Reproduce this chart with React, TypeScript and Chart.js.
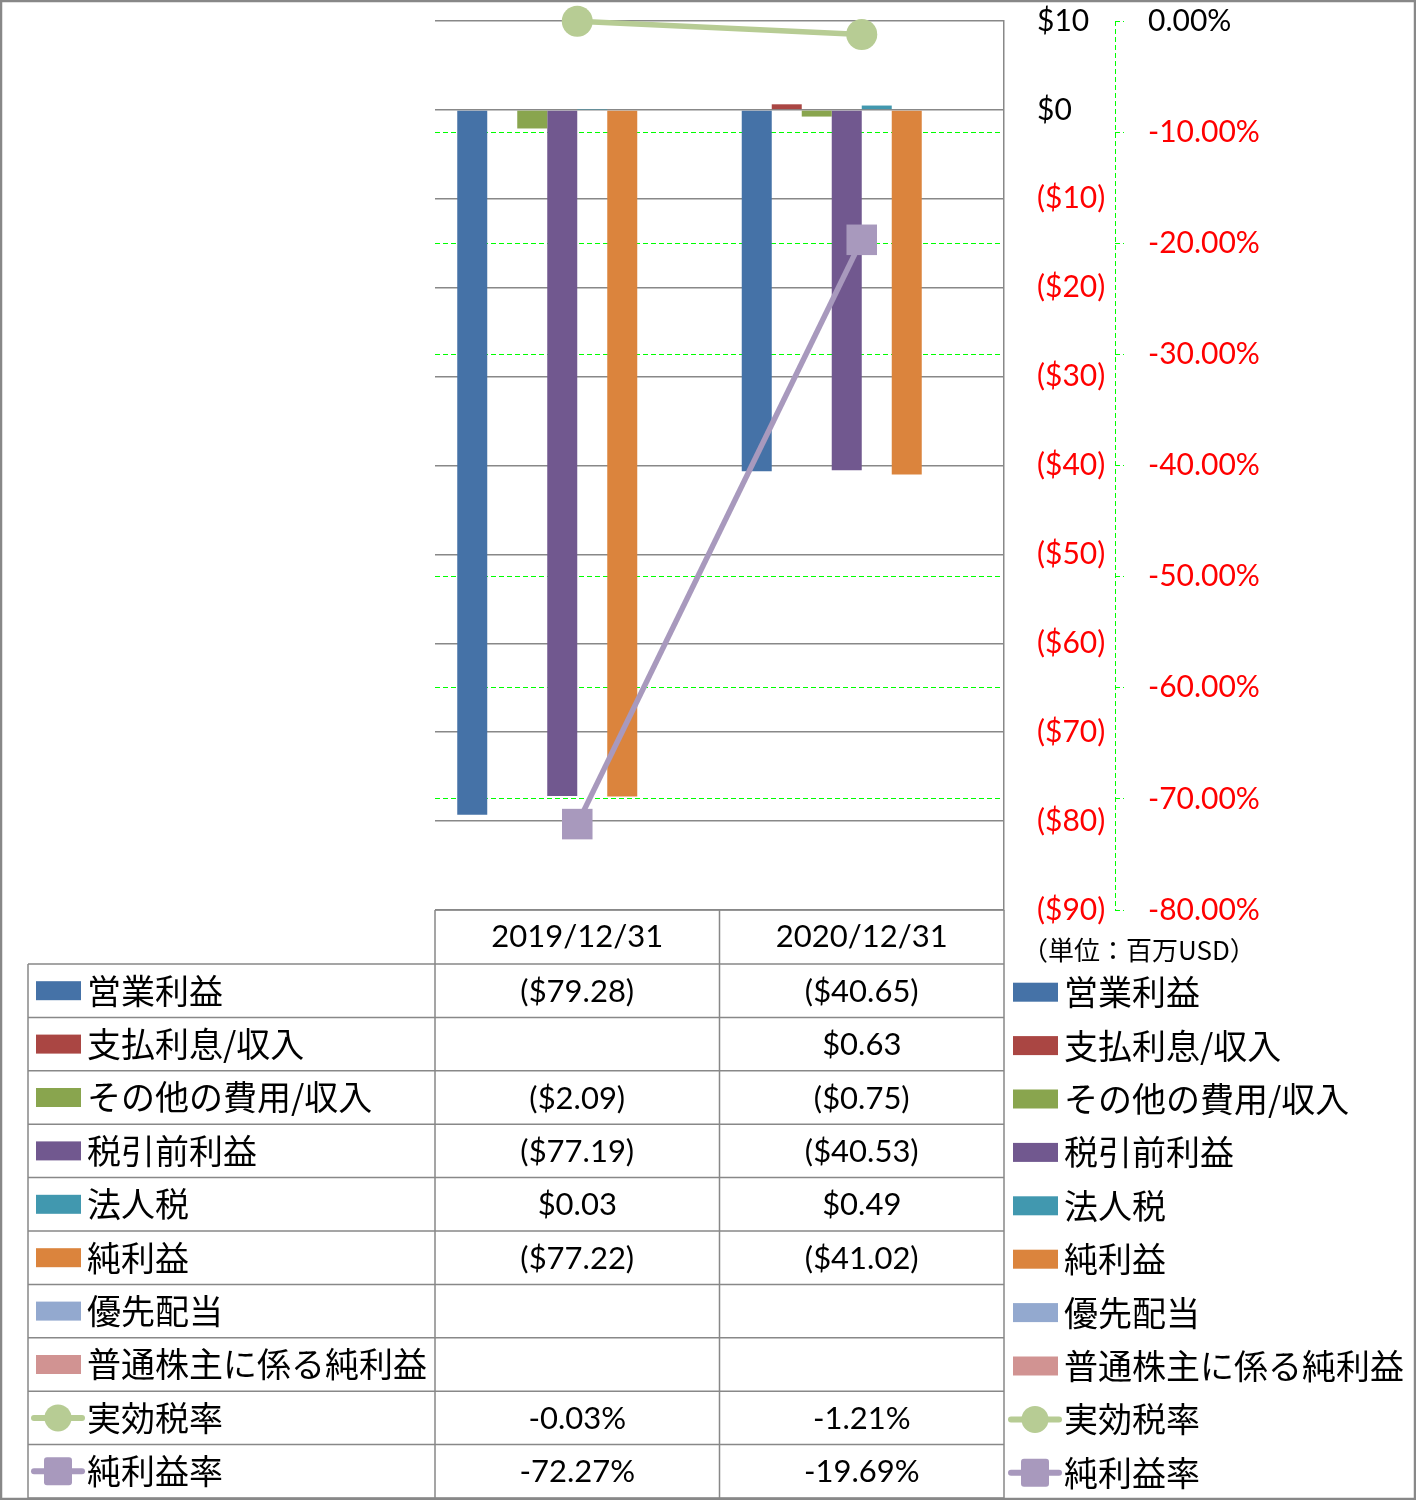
import React, { useEffect, useRef } from 'react';
import { Chart, registerables } from 'chart.js';

Chart.register(...registerables);

// ---- data ----
const categories = ['2019/12/31', '2020/12/31'];
const seriesNames = [
  '営業利益',
  '支払利息/収入',
  'その他の費用/収入',
  '税引前利益',
  '法人税',
  '純利益',
  '優先配当',
  '普通株主に係る純利益',
  '実効税率',
  '純利益率',
];
const operatingIncome = [-79.28, -40.65];
const interestExpense = [null, 0.63];
const otherExpense = [-2.09, -0.75];
const pretaxIncome = [-77.19, -40.53];
const incomeTax = [0.03, 0.49];
const netIncome = [-77.22, -41.02];
const preferredDividends = [null, null];
const netIncomeCommon = [null, null];
const effectiveTaxRate = [-0.0003, -0.0121];
const netMargin = [-0.7227, -0.1969];
const leftAxis = { min: -90, max: 10, step: 10 };
const rightAxis = { min: -0.8, max: 0, step: 0.1 };
const unitLabel = '（単位：百万USD）';

const barColors = ['#4572A7', '#AA4643', '#89A54E', '#71588F', '#4198AF', '#DB843D', '#93A9CF', '#D19392'];
const lineColors = ['#B7CC94', '#A899BD'];

const NUM_FONT = "31px Lato, 'Noto Sans CJK JP', sans-serif";
const JP_FONT = "34px 'Noto Sans CJK JP', sans-serif";
const GRAY = '#888888';
const LIME = '#00FF00';

const money = (v: number | null) => {
  if (v === null || v === undefined) return '';
  return v < 0 ? `($${(-v).toFixed(2)})` : `$${v.toFixed(2)}`;
};
const pct = (v: number | null) => (v === null || v === undefined ? '' : `${(v * 100).toFixed(2)}%`);

const tablePlugin = {
  id: 'dataTable',
  afterDraw(chart: any) {
    const { ctx, chartArea } = chart;
    const xs = chart.scales.x;
    const y1 = chart.scales.y1;
    const ds = chart.data.datasets;
    const headerTop = chartArea.bottom;
    const rowTop = 964;
    const rowH = 53.4;
    const left = 28;
    const c0 = xs.getPixelForValue(0);
    const c1 = xs.getPixelForValue(1);
    const mid = (c0 + c1) / 2;
    const colX = [chartArea.left, mid, chartArea.right];

    ctx.save();
    // dashed right axis line
    ctx.strokeStyle = LIME;
    ctx.lineWidth = 1;
    ctx.setLineDash([5, 3]);
    ctx.beginPath();
    ctx.moveTo(Math.round(y1.left) + 0.5, chartArea.top);
    ctx.lineTo(Math.round(y1.left) + 0.5, chartArea.bottom);
    ctx.stroke();
    ctx.setLineDash([]);

    // table lines
    ctx.strokeStyle = GRAY;
    ctx.lineWidth = 1.5;
    ctx.beginPath();
    ctx.moveTo(chartArea.left, headerTop);
    ctx.lineTo(chartArea.right, headerTop);
    for (let i = 0; i <= ds.length; i++) {
      const y = rowTop + i * rowH;
      ctx.moveTo(left, y);
      ctx.lineTo(chartArea.right, y);
    }
    const bottom = rowTop + ds.length * rowH;
    ctx.moveTo(left, rowTop);
    ctx.lineTo(left, bottom);
    for (const x of colX) {
      ctx.moveTo(x, headerTop);
      ctx.lineTo(x, bottom);
    }
    ctx.stroke();

    // header text
    ctx.fillStyle = '#000';
    ctx.textAlign = 'center';
    ctx.textBaseline = 'middle';
    ctx.font = NUM_FONT;
    categories.forEach((c, i) => {
      ctx.fillText(c, xs.getPixelForValue(i), (headerTop + rowTop) / 2);
    });

    // unit label
    ctx.textAlign = 'left';
    ctx.font = "26px 'Noto Sans CJK JP', sans-serif";
    ctx.fillText(unitLabel, 1022, 950);

    const drawKey = (d: any, x: number, yc: number, isLine: boolean) => {
      if (!isLine) {
        ctx.fillStyle = d.backgroundColor;
        ctx.fillRect(x, yc - 9.5, 45, 19);
      } else {
        ctx.strokeStyle = d.borderColor;
        ctx.lineWidth = 6;
        ctx.lineCap = 'round';
        ctx.beginPath();
        ctx.moveTo(x, yc);
        ctx.lineTo(x + 48, yc);
        ctx.stroke();
        ctx.lineCap = 'butt';
        ctx.fillStyle = d.borderColor;
        const cx = x + 24;
        if (d.pointStyle === 'circle') {
          ctx.beginPath();
          ctx.arc(cx, yc, 13.5, 0, Math.PI * 2);
          ctx.fill();
        } else {
          ctx.beginPath();
          (ctx as any).roundRect(cx - 14, yc - 14, 28, 28, 3);
          ctx.fill();
        }
      }
      ctx.fillStyle = '#000';
    };

    // rows
    ds.forEach((d: any, i: number) => {
      const yc = rowTop + i * rowH + rowH / 2;
      const isLine = d.type === 'line';
      drawKey(d, isLine ? 34 : 36, yc, isLine);
      ctx.textAlign = 'left';
      ctx.font = JP_FONT;
      ctx.fillText(d.label, 87, yc);
      ctx.textAlign = 'center';
      ctx.font = NUM_FONT;
      d.data.forEach((v: number | null, j: number) => {
        const txt = isLine ? pct(v) : money(v);
        ctx.fillText(txt, xs.getPixelForValue(j), yc + 1);
      });
      // right legend
      const yr = yc + 1.5;
      drawKey(d, isLine ? 1011 : 1013, yr, isLine);
      ctx.textAlign = 'left';
      ctx.font = JP_FONT;
      ctx.fillText(d.label, 1064, yr);
    });

    // outer border
    ctx.strokeStyle = GRAY;
    ctx.lineWidth = 2.5;
    ctx.strokeRect(1, 1, chart.width - 2, chart.height - 2);
    ctx.restore();
  },
};

export default function App() {
  const ref = useRef<HTMLCanvasElement | null>(null);

  useEffect(() => {
    if (!ref.current) return;
    const barSeries = [
      operatingIncome,
      interestExpense,
      otherExpense,
      pretaxIncome,
      incomeTax,
      netIncome,
      preferredDividends,
      netIncomeCommon,
    ];
    const datasets: any[] = barSeries.map((data, i) => ({
      type: 'bar',
      label: seriesNames[i],
      data,
      backgroundColor: barColors[i],
      borderWidth: 0,
      yAxisID: 'y',
      order: 2,
      categoryPercentage: 0.8436,
      barPercentage: 1,
    }));
    datasets.push({
      type: 'line',
      label: seriesNames[8],
      data: effectiveTaxRate,
      borderColor: lineColors[0],
      backgroundColor: lineColors[0],
      borderWidth: 5.5,
      pointStyle: 'circle',
      pointRadius: 15.5,
      pointBorderWidth: 0,
      yAxisID: 'y1',
      order: 1,
      clip: false,
    });
    datasets.push({
      type: 'line',
      label: seriesNames[9],
      data: netMargin,
      borderColor: lineColors[1],
      backgroundColor: lineColors[1],
      borderWidth: 5.5,
      pointStyle: 'rect',
      pointRadius: 21.6,
      pointBorderWidth: 0,
      yAxisID: 'y1',
      order: 1,
      clip: false,
    });

    const chart = new Chart(ref.current, {
      type: 'bar',
      data: { labels: categories, datasets },
      plugins: [tablePlugin],
      options: {
        responsive: false,
        animation: false,
        devicePixelRatio: 1,
        layout: { autoPadding: false, padding: { left: 435, right: 0, top: 21, bottom: 590 } },
        plugins: { legend: { display: false }, tooltip: { enabled: false } },
        scales: {
          x: { display: false },
          y: {
            position: 'right',
            weight: 0,
            min: leftAxis.min,
            max: leftAxis.max,
            afterFit: (s: any) => {
              s.width = 111;
              s.paddingTop = 0;
              s.paddingBottom = 0;
            },
            ticks: {
              stepSize: leftAxis.step,
              autoSkip: false,
              padding: 33,
              font: { family: "Lato, 'Noto Sans CJK JP', sans-serif", size: 30 },
              color: (c: any) => (c.tick && c.tick.value < 0 ? '#FF0000' : '#000000'),
              callback: (v: any) => {
                const n = Number(v);
                if (n === 0) return '$0';
                return n > 0 ? `$${n}` : `($${-n})`;
              },
            },
            grid: { color: GRAY, lineWidth: 1.5, drawTicks: false },
            border: { display: true, color: GRAY, width: 1.5 },
          },
          y1: {
            position: 'right',
            weight: 1,
            min: rightAxis.min,
            max: rightAxis.max,
            afterFit: (s: any) => {
              s.width = 301;
              s.paddingTop = 0;
              s.paddingBottom = 0;
            },
            ticks: {
              stepSize: rightAxis.step,
              autoSkip: false,
              padding: 24,
              font: { family: "Lato, 'Noto Sans CJK JP', sans-serif", size: 30 },
              color: (c: any) => (c.tick && c.tick.value < -1e-9 ? '#FF0000' : '#000000'),
              callback: (v: any) => {
                const n = Math.round(Number(v) * 10000) / 100;
                return `${(n === 0 ? 0 : n).toFixed(2)}%`;
              },
            },
            grid: {
              color: (c: any) => {
                const v = c.tick ? c.tick.value : 0;
                if (Math.abs(v) < 1e-9 || Math.abs(v + 0.8) < 1e-9 || Math.abs(v + 0.4) < 1e-9) return 'rgba(0,0,0,0)';
                return LIME;
              },
              lineWidth: 1,
              drawTicks: true,
              tickLength: 9,
              tickColor: LIME,
              tickBorderDash: [5, 3],
            },
            border: { display: false, dash: [5, 3] },
          },
        },
      } as any,
    });
    return () => chart.destroy();
  }, []);

  return (
    <div style={{ position: 'absolute', left: 0, top: 0, width: 1416, height: 1500, background: '#fff' }}>
      <canvas ref={ref} width={1416} height={1500} style={{ display: 'block' }} />
    </div>
  );
}
